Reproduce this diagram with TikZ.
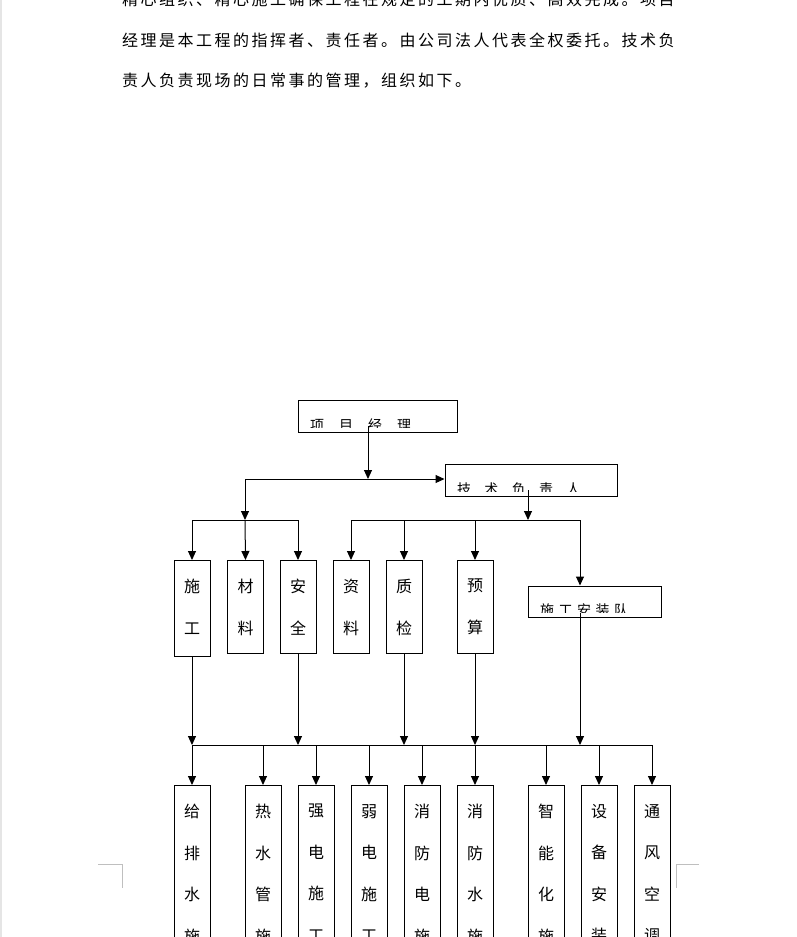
\documentclass[tikz,border=0pt]{standalone}
\usepackage{fontspec}
\newfontfamily\cjk{Noto Sans CJK SC}
\usetikzlibrary{positioning, arrows.meta}

\begin{document}
\begin{tikzpicture}[x=1pt, y=-1pt,
      >={Triangle[length=9pt, width=8pt]},
      bodytext/.style={anchor=west, inner sep=0pt, font=\cjk\fontsize{16}{16}\selectfont\addfontfeature{LetterSpace=15.6}},
      titlebox/.style={draw, line width=1pt, inner sep=0pt},
      boxtext/.style={anchor=west, inner sep=0pt, font=\cjk\fontsize{14}{14}\selectfont\addfontfeature{LetterSpace=#1}},
      deptbox/.style={draw, line width=1pt, anchor=north, minimum width=36pt, inner sep=0pt},
      vtext/.style={anchor=north, inner sep=0pt, align=center, yshift=-19pt, font=\cjk\fontsize{16}{41.5}\selectfont},
      link/.style={draw, line width=1pt},
      cropmark/.style={draw=gray!50, line width=0.8pt}
    ]
    \useasboundingbox (0,0) rectangle (797,937);
    \clip (0,0) rectangle (797,937);
    \fill[gray!20] (0,0) rectangle (2,937);
    % text above the chart
    \node[bodytext] (line1) at (122,-1) {精心组织、精心施工确保工程在规定的工期内优质、高效完成。项目};
    \node[bodytext] (line2) at (122,40) {经理是本工程的指挥者、责任者。由公司法人代表全权委托。技术负};
    \node[bodytext] (line3) at (122,81) {责人负责现场的日常事的管理，组织如下。};

    % heads
    \node[titlebox, minimum width=159pt, minimum height=32pt] (pm) at (377.5,416) {};
    \begin{scope}
      \clip (pm.north west) rectangle ([yshift=5pt]pm.south east);
      \node[boxtext=107] (pmtext) at (310,425) {项目经理};
    \end{scope}
    \node[titlebox, minimum width=172pt, minimum height=32pt] (tl) at (531,480) {};
    \begin{scope}
      \clip (tl.north west) rectangle ([yshift=5pt]tl.south east);
      \node[boxtext=95] (tltext) at (457,489) {技术负责人};
    \end{scope}
    \node[titlebox, minimum width=133pt, minimum height=31pt] (ac) at (594.5,601.5) {};
    \begin{scope}
      \clip (ac.north west) rectangle ([yshift=5pt]ac.south east);
      \node[boxtext=32] (actext) at (540,610) {施工安装队};
    \end{scope}

    % departments
    \node[deptbox, minimum height=96pt] (sg) at (192,560) {};
    \node[vtext] at (sg.north) {施\\工};
    \node[deptbox, minimum height=93pt] (cl) at (245.5,560) {};
    \node[vtext] at (cl.north) {材\\料};
    \node[deptbox, minimum height=93pt] (aq) at (298,560) {};
    \node[vtext] at (aq.north) {安\\全};
    \node[deptbox, minimum height=93pt] (zl) at (351,560) {};
    \node[vtext] at (zl.north) {资\\料};
    \node[deptbox, minimum height=93pt] (zj) at (404,560) {};
    \node[vtext] at (zj.north) {质\\检};
    \node[deptbox, minimum height=93pt] (ys) at (475,560) {};
    \node[vtext] at (ys.north) {预\\算};

    % teams
    \node[deptbox, minimum height=220pt] (gps) at (192,785) {};
    \node[vtext] at (gps.north) {给\\排\\水\\施\\工};
    \node[deptbox, minimum height=220pt] (rsg) at (263,785) {};
    \node[vtext] at (rsg.north) {热\\水\\管\\施\\工};
    \node[deptbox, minimum height=220pt] (qd) at (316,785) {};
    \node[vtext] at (qd.north) {强\\电\\施\\工};
    \node[deptbox, minimum height=220pt] (rd) at (369,785) {};
    \node[vtext] at (rd.north) {弱\\电\\施\\工};
    \node[deptbox, minimum height=220pt] (xfd) at (422,785) {};
    \node[vtext] at (xfd.north) {消\\防\\电\\施\\工};
    \node[deptbox, minimum height=220pt] (xfs) at (475,785) {};
    \node[vtext] at (xfs.north) {消\\防\\水\\施\\工};
    \node[deptbox, minimum height=220pt] (znh) at (546,785) {};
    \node[vtext] at (znh.north) {智\\能\\化\\施\\工};
    \node[deptbox, minimum height=220pt] (sb) at (599,785) {};
    \node[vtext] at (sb.north) {设\\备\\安\\装};
    \node[deptbox, minimum height=220pt] (tf) at (652,785) {};
    \node[vtext] at (tf.north) {通\\风\\空\\调};

    % connectors
    \coordinate (pmout) at (368,426);
    \coordinate (pmjoin) at (368,479);
    \coordinate (leftjoin) at (245,479);
    \coordinate (lbus) at (245,520);
    \coordinate (tlout) at (528,490);
    \coordinate (rbus) at (528,520);
    \coordinate (rbusend) at (580,520);
    \coordinate (acout) at (580,613);
    \coordinate (bus) at (192,745);
    \draw[link, ->] (pmout) -- (pmjoin);
    \draw[link, ->] (leftjoin) -- (leftjoin -| tl.west);
    \draw[link, ->] (leftjoin) -- (lbus);
    \draw[link] (sg.north |- lbus) -- (aq.north |- lbus);
    \draw[link, ->] (sg.north |- lbus) -- (sg.north);
    \draw[link, ->] (lbus) -- (cl.north);
    \draw[link, ->] (aq.north |- lbus) -- (aq.north);
    \draw[link, ->] (tlout) -- (rbus);
    \draw[link] (zl.north |- rbus) -- (rbusend);
    \draw[link, ->] (zl.north |- rbus) -- (zl.north);
    \draw[link, ->] (zj.north |- rbus) -- (zj.north);
    \draw[link, ->] (ys.north |- rbus) -- (ys.north);
    \draw[link, ->] (rbusend) -- (rbusend |- ac.north);
    \draw[link] (bus) -- (bus -| tf.north);
    \draw[link, ->] (sg.south) -- (bus);
    \draw[link, ->] (aq.south) -- (aq.south |- bus);
    \draw[link, ->] (zj.south) -- (zj.south |- bus);
    \draw[link, ->] (ys.south) -- (ys.south |- bus);
    \draw[link, ->] (acout) -- (acout |- bus);
    \draw[link, ->] (bus) -- (gps.north);
    \draw[link, ->] (rsg.north |- bus) -- (rsg.north);
    \draw[link, ->] (qd.north |- bus) -- (qd.north);
    \draw[link, ->] (rd.north |- bus) -- (rd.north);
    \draw[link, ->] (xfd.north |- bus) -- (xfd.north);
    \draw[link, ->] (xfs.north |- bus) -- (xfs.north);
    \draw[link, ->] (znh.north |- bus) -- (znh.north);
    \draw[link, ->] (sb.north |- bus) -- (sb.north);
    \draw[link, ->] (tf.north |- bus) -- (tf.north);

    % page corners
    \draw[cropmark] (98,864) -- (122,864) -- (122,888);
    \draw[cropmark] (699,864) -- (676,864) -- (676,888);
  \end{tikzpicture}
\end{document}
